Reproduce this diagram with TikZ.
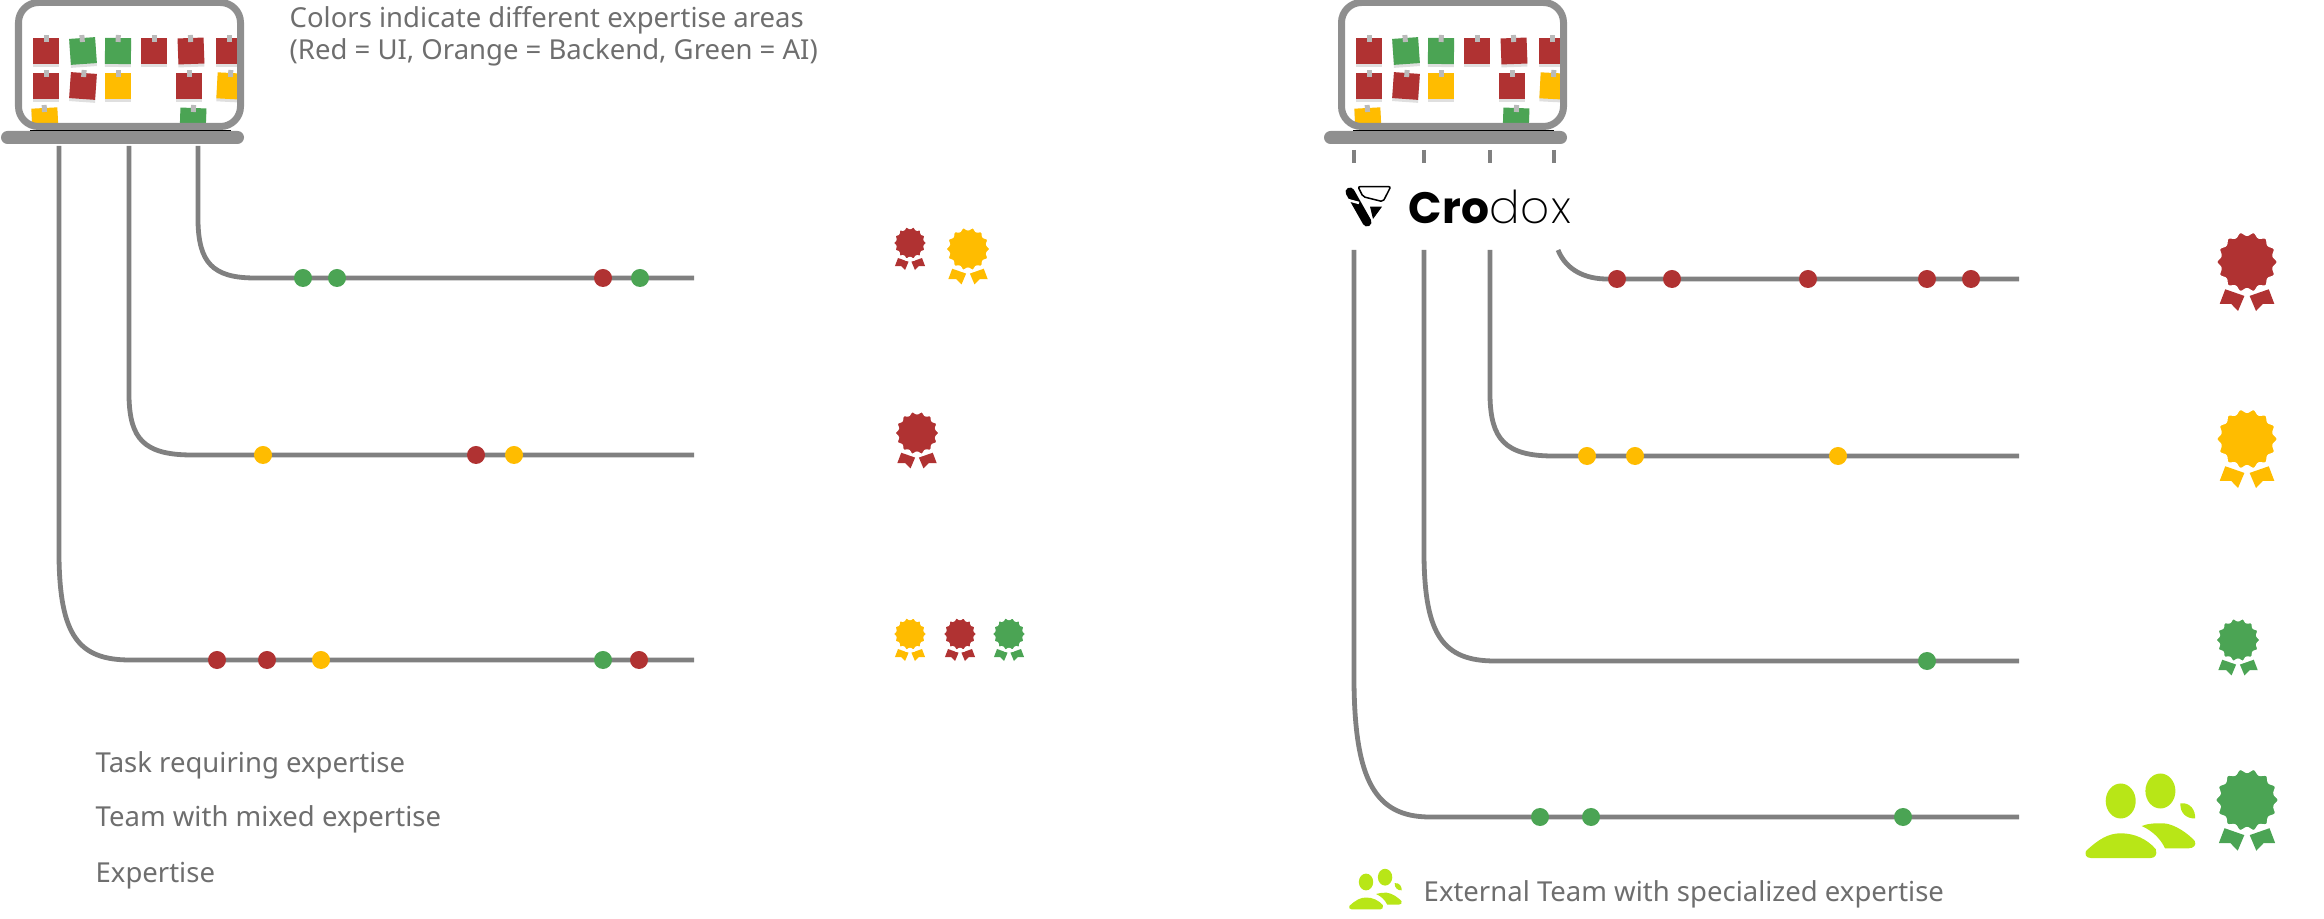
\documentclass[tikz,border=0pt]{standalone}
\usepackage{fontspec}
\setmainfont{Noto Sans}
\newfontfamily\logobold{Poppins}[Scale=1.0]
\newfontfamily\logothin{Poppins ExtraLight}[LetterSpace=3,Scale=1.03]
\usepackage{tikz}
\usetikzlibrary{shadows}

\definecolor{taskred}{HTML}{B03232}
\definecolor{taskgreen}{HTML}{4BA454}
\definecolor{taskyellow}{HTML}{FFBC00}
\definecolor{framegray}{HTML}{8F8F8F}
\definecolor{wiregray}{HTML}{808080}
\definecolor{captiongray}{HTML}{6E6E6E}
\definecolor{teamlime}{HTML}{B8E617}

\tikzset{
	wire/.style={draw=wiregray,line width=0.048cm},
	dot/.style={circle,inner sep=0,minimum size=0.18cm},
	caption/.style={anchor=base west,inner sep=0,text=captiongray,font=\fontsize{7.82}{9}\selectfont}
}

% One sticky note with its pin
\newcommand{\sticky}[4]{
	\fill[#4,shift={(#1,#2)},rotate=#3,drop shadow={shadow xshift=0,shadow yshift=-0.03cm,opacity=0.25}] (-13,-13) rectangle (13,13);
	\fill[black!27,shift={(#1,#2)},rotate=#3] (-2.5,-16) rectangle (2.5,-9);
}

% Laptop with its board, drawn from the upper left of the frame
\newcommand{\laptop}[1]{
	\begin{scope}[shift={(#1,0)}]
		\fill[framegray,rounded corners=0.065cm] (1,131) rectangle (244,144);
		\begin{scope}
			\clip (15,3) rectangle (237,127);
			\sticky{46}{51}{0}{taskred}
			\sticky{83}{51}{4}{taskgreen}
			\sticky{118}{51}{-1}{taskgreen}
			\sticky{154}{51}{0}{taskred}
			\sticky{191}{51}{2}{taskred}
			\sticky{229}{51}{0}{taskred}
			\sticky{46}{86}{0}{taskred}
			\sticky{83}{86}{-4}{taskred}
			\sticky{118}{86}{0}{taskyellow}
			\sticky{189}{86}{0}{taskred}
			\sticky{230}{86}{-3}{taskyellow}
			\sticky{45}{121}{3}{taskyellow}
			\sticky{193}{121}{-2}{taskgreen}
		\end{scope}
		\draw[framegray,line width=0.07cm,rounded corners=0.2cm] (18.5,2.5) rectangle (240.5,126.5);
		\draw[black,line width=0.012cm] (30,130.5) -- (231,130.5);
	\end{scope}
}

% Rosette with two ribbons, r is the radius
\newcommand{\medal}[4]{
	\begin{scope}[shift={(#1,#2)},x=#3*0.01cm,y=-#3*0.01cm]
		\fill[#4] (-0.75,0.94) -- (-0.09,1.17) -- (-0.31,1.69) -- (-0.55,1.44) -- (-0.94,1.44) -- cycle;
		\fill[#4] (0.75,0.94) -- (0.09,1.17) -- (0.31,1.69) -- (0.55,1.44) -- (0.94,1.44) -- cycle;
		\fill[#4,draw=white,line width=0.025cm] plot[domain=0:360,samples=169,smooth] (\x:{1+0.06*cos(14*\x)}) -- cycle;
	\end{scope}
}

% Group of people, s is the scale
\newcommand{\team}[3]{
	\begin{scope}[shift={(#1,#2)},x=#3*0.01cm,y=-#3*0.01cm]
		\fill[teamlime] (0,0) ellipse (15 and 17.5);
		\fill[teamlime] (39.7,-10) ellipse (15 and 17.5);
		\fill[teamlime] (59.7,2.3) .. controls (70,1) and (75,10) .. (74.3,17.3) .. controls (66,18) and (59,12) .. cycle;
		\fill[teamlime] (-34.7,50) .. controls (-22,38) and (-12,32.3) .. (0,32.3) .. controls (14,32.3) and (26,38) .. (35,48) .. controls (37,54) and (34,57) .. (30,57) -- (-30,57) .. controls (-35,57) and (-36,53) .. cycle;
		\fill[teamlime] (21,25) .. controls (28,22) and (36,22.3) .. (43,22.3) .. controls (54,23) and (68,33) .. (74,40) .. controls (76,44) and (73,47.3) .. (68,47.3) -- (44.3,47.3) .. controls (40,38) and (32,30) .. cycle;
	\end{scope}
}

\begin{document}
\begin{tikzpicture}[x=0.01cm,y=-0.01cm]
	\useasboundingbox (0,0) rectangle (2324,919);

	% Left laptop
	\laptop{0}
	\node[caption] (colors) at (289,27.5) {Colors indicate different expertise areas};
	\node[caption] (legend) at (289,59.5) {(Red = UI, Orange = Backend, Green = AI)};

	% Left tasks
	\coordinate (a1) at (198,146);
	\coordinate (b1) at (694,278);
	\coordinate (a2) at (129,146);
	\coordinate (b2) at (694,455);
	\coordinate (a3) at (59,146);
	\coordinate (b3) at (694,660);
	\draw[wire] (a1) -- (198,222) .. controls (199,262) and (212,278) .. (255,278) -- (b1);
	\draw[wire] (a2) -- (129,397) .. controls (130,438) and (143,455) .. (192,455) -- (b2);
	\draw[wire] (a3) -- (59,557) .. controls (60,635) and (78,660) .. (130,660) -- (b3);
	\foreach \x/\c in {303/taskgreen,337/taskgreen,603/taskred,640/taskgreen}
		\node[dot,fill=\c] at (\x,278) {};
	\foreach \x/\c in {263/taskyellow,476/taskred,514/taskyellow}
		\node[dot,fill=\c] at (\x,455) {};
	\foreach \x/\c in {217/taskred,267/taskred,321/taskyellow,603/taskgreen,639/taskred}
		\node[dot,fill=\c] at (\x,660) {};

	% Left expertise
	\medal{910}{243}{16}{taskred}
	\medal{968}{249}{21}{taskyellow}
	\medal{917}{433}{21}{taskred}
	\medal{910}{634}{16}{taskyellow}
	\medal{960}{634}{16}{taskred}
	\medal{1009}{634}{16}{taskgreen}

	\node[caption] (task) at (95,772) {Task requiring expertise};
	\node[caption] (mixed) at (95,827) {Team with mixed expertise};
	\node[caption] (expert) at (95,883) {Expertise};

	% Right laptop
	\laptop{1323}
	\foreach \x in {1354,1424,1490,1554}
		\draw[wire] (\x,150) -- (\x,163);

	% Logo
	\draw[black,line width=0.09cm,line cap=round] (1350,192) -- (1367,222);
	\draw[white,line width=0.025cm] (1344,199) -- (1359,203);
	\fill[black] (1370,206.7) -- (1382,206.7) -- (1373,219) -- cycle;
	\draw[black,line width=0.015cm,rounded corners=0.02cm] (1358,186.7) -- (1390.7,186.7) -- (1383,201.7) -- (1363,196.7) -- cycle;
	\node[anchor=base west,inner sep=0,font={\fontsize{12.5}{14}\selectfont}] (logo) at (1408,224) {{\logobold\bfseries Cro}{\logothin dox}};

	% Right tasks
	\coordinate (c1) at (1558,250);
	\coordinate (d1) at (2019,279);
	\coordinate (c2) at (1490,250);
	\coordinate (d2) at (2019,456);
	\coordinate (c3) at (1424,250);
	\coordinate (d3) at (2019,661);
	\coordinate (c4) at (1354,250);
	\coordinate (d4) at (2019,817);
	\draw[wire] (c1) .. controls (1566,270) and (1585,279) .. (1607,279) -- (d1);
	\draw[wire] (c2) -- (1490,397) .. controls (1491,438) and (1504,456) .. (1553,456) -- (d2);
	\draw[wire] (c3) -- (1424,557) .. controls (1425,635) and (1443,661) .. (1495,661) -- (d3);
	\draw[wire] (c4) -- (1354,683) .. controls (1355,780) and (1375,817) .. (1430,817) -- (d4);
	\foreach \x in {1617,1672,1808,1927,1971}
		\node[dot,fill=taskred] at (\x,279) {};
	\foreach \x in {1587,1635,1838}
		\node[dot,fill=taskyellow] at (\x,456) {};
	\node[dot,fill=taskgreen] at (1927,661) {};
	\foreach \x in {1540,1591,1903}
		\node[dot,fill=taskgreen] at (\x,817) {};

	% Right expertise
	\medal{2247}{262}{29}{taskred}
	\medal{2247}{439}{29}{taskyellow}
	\medal{2238}{640}{21}{taskgreen}
	\medal{2247}{800}{30}{taskgreen}
	\team{2120.7}{801}{1}

	\team{1366}{882}{0.48}
	\node[caption] (external) at (1423,901) {External Team with specialized expertise};
\end{tikzpicture}
\end{document}
